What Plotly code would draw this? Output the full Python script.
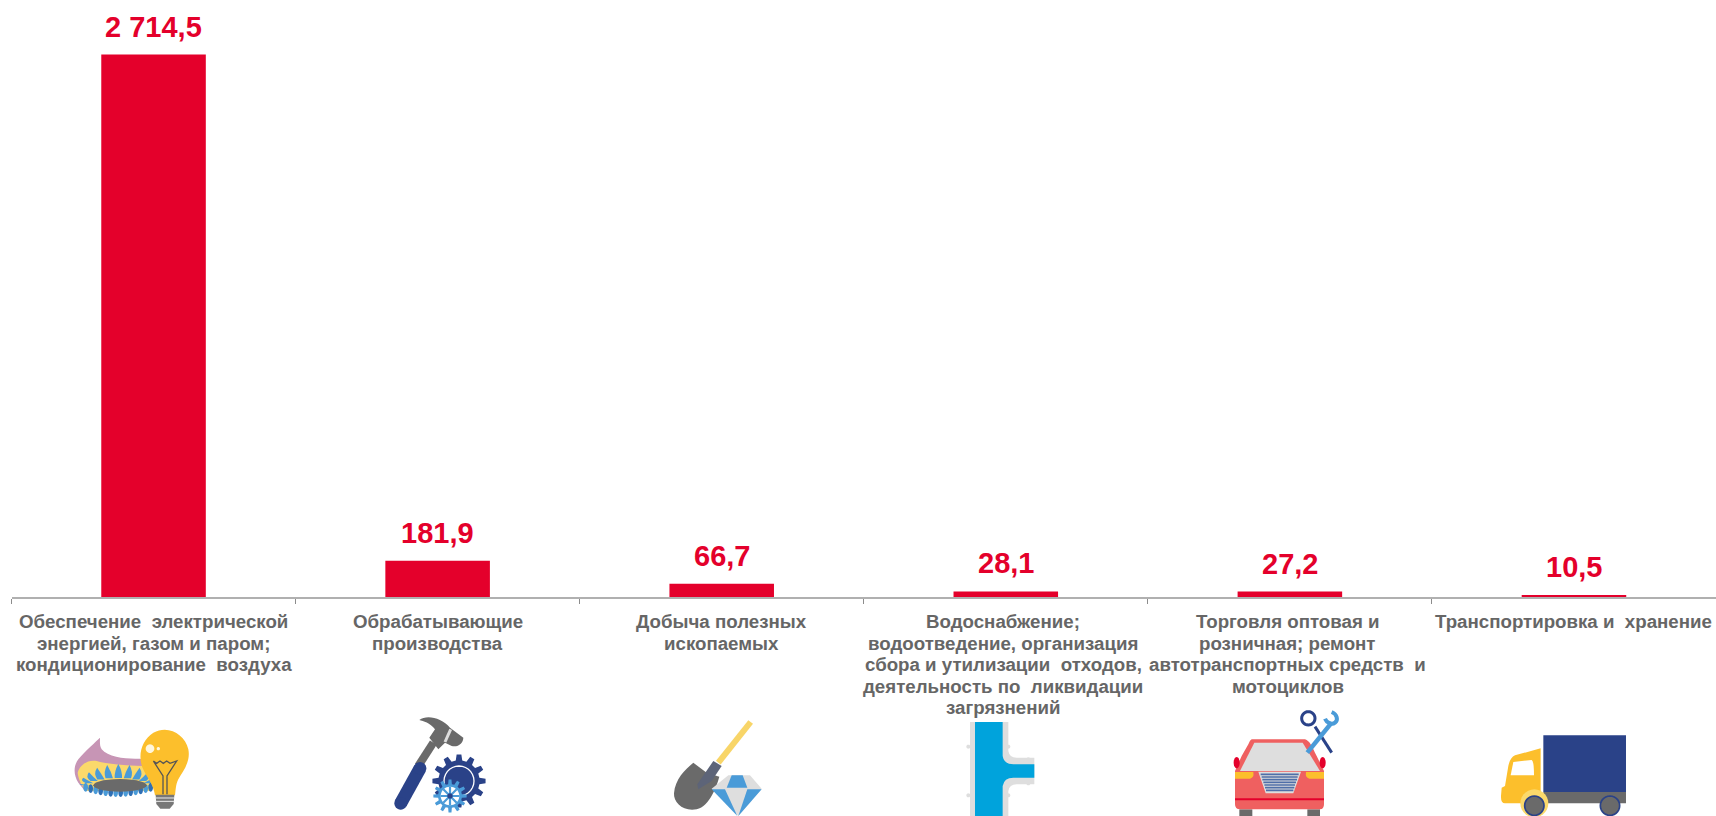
import math
import re
import plotly.graph_objects as go

categories = [
    "Обеспечение\u00a0 электрической<br>энергией, газом и паром;<br>кондиционирование\u00a0 воздуха",
    "Обрабатывающие<br>производства",
    "Добыча полезных<br>ископаемых",
    "Водоснабжение;<br>водоотведение, организация<br>сбора и утилизации\u00a0 отходов,<br>деятельность по\u00a0 ликвидации<br>загрязнений",
    "Торговля оптовая и<br>розничная; ремонт<br>автотранспортных средств\u00a0 и<br>мотоциклов",
    "Транспортировка и\u00a0 хранение",
]
values = [2714.5, 181.9, 66.7, 28.1, 27.2, 10.5]
value_labels = ["2\u00a0714,5", "181,9", "66,7", "28,1", "27,2", "10,5"]

W, H = 1716, 816
RED = "#e4002b"
GREY = "#6a6a6a"
NAVY = "#2a4288"
SKY = "#4a9bd8"
YEL = "#fcbf2c"
PALE = "#fbd96b"
LG = "#dedede"

shapes = []


def tf(ox, oy):
    def pt(x, y):
        return (ox + x / 3) / W, 1 - (oy + y / 3) / H
    return pt


def path_from(ox, oy, d):
    pt = tf(ox, oy)
    toks = re.findall(r"[A-Za-z]|-?[\d.]+", d)
    out, nums = [], []
    for t in toks:
        if t.isalpha():
            out.append(t)
        else:
            nums.append(float(t))
            if len(nums) == 2:
                px, py = pt(*nums)
                out.append(f"{px:.5f},{py:.5f}")
                nums = []
    return " ".join(out)


def fill(ox, oy, d, color):
    shapes.append(dict(type="path", xref="paper", yref="paper", layer="above",
                       path=path_from(ox, oy, d), fillcolor=color,
                       line=dict(width=0)))


def stroke(ox, oy, d, color, w):
    shapes.append(dict(type="path", xref="paper", yref="paper", layer="above",
                       path=path_from(ox, oy, d), fillcolor="rgba(0,0,0,0)",
                       line=dict(color=color, width=w)))


def ell(cx, cy, rx, ry=None):
    ry = rx if ry is None else ry
    n = 28
    p = [(cx + rx * math.cos(2 * math.pi * i / n), cy + ry * math.sin(2 * math.pi * i / n)) for i in range(n)]
    return "M " + " L ".join(f"{a:.1f},{b:.1f}" for a, b in p) + " Z"


def gear(cx, cy, ro, ri, n):
    p = []
    for i in range(n):
        a = 2 * math.pi * i / n
        s = 2 * math.pi / n
        for da, r in ((-.30, ri), (-.17, ro), (.17, ro), (.30, ri)):
            t = a + da * s
            p.append((cx + r * math.cos(t), cy + r * math.sin(t)))
    return "M " + " L ".join(f"{a:.1f},{b:.1f}" for a, b in p) + " Z"


# Icon 1: gas burner and bulb
o = (65, 716)
fill(*o, "M 105,65 C 95,75 60,105 40,130 C 25,150 25,175 40,200 L 60,225 L 260,225 L 260,140 L 225,128 C 190,130 130,125 110,100 C 103,90 105,75 105,65 Z", "#c795b5")
fill(*o, "M 38,170 C 45,145 70,130 95,135 C 130,145 200,150 250,150 L 255,225 L 65,225 C 50,210 40,190 38,170 Z", PALE)
for i in range(11):
    a = math.pi * (1.02 + 0.96 * i / 10)
    bx, by = 160 + 92 * math.cos(a), 210 + 24 * math.sin(a)
    tx, ty = 160 + 112 * math.cos(a), 208 + 64 * math.sin(a)
    fill(*o, f"M {bx-11:.1f},{by:.1f} Q {tx-12:.1f},{(by+ty)/2:.1f} {tx:.1f},{ty:.1f} Q {tx+12:.1f},{(by+ty)/2:.1f} {bx+11:.1f},{by:.1f} Z", SKY)
for i in range(14):
    x = 62 + i * 15
    y = 214 + 16 * math.sin(math.pi * i / 13)
    fill(*o, ell(x, y, 7, 13), "#2f6fb5" if i % 2 else SKY)
fill(*o, ell(165, 208, 80, 19), GREY)
fill(*o, "M 270,238 C 265,205 250,190 240,170 C 215,130 225,75 265,50 C 310,25 360,55 370,100 C 378,140 350,170 340,190 C 332,205 332,225 330,238 Z", YEL)
fill(*o, ell(255, 98, 13), "#fff6dc")
fill(*o, ell(280, 98, 5), "#fff6dc")
stroke(*o, "M 265,135 L 275,142 L 285,135 L 295,142 L 305,135 L 315,142 L 335,135 L 306,180 L 306,235 M 265,135 L 294,180 L 294,235", "#555555", 1.3)
fill(*o, "M 272,236 L 328,236 L 326,264 L 314,278 L 286,278 L 274,264 Z", "#777777")
stroke(*o, "M 272,246 L 328,246 M 272,256 L 328,256", "#eeeeee", 1)

# Icon 2: hammer and gears
o = (380, 706)
stroke(*o, "M 160,110 L 115,180", GREY, 8)
fill(*o, "M 118,42 C 140,25 185,35 210,65 L 250,95 C 250,110 235,125 215,120 L 195,110 L 175,130 L 148,95 L 165,70 C 150,50 130,45 118,42 Z", GREY)
stroke(*o, "M 212,70 L 195,108", "#dddddd", 3)
stroke(*o, "M 120,187 L 62,292", NAVY, 13)
fill(*o, ell(120, 187, 19), NAVY)
fill(*o, ell(62, 292, 19), NAVY)
fill(*o, gear(237, 225, 80, 62, 12), NAVY)
stroke(*o, ell(237, 225, 45), "#ffffff", 1.3)
fill(*o, gear(210, 270, 50, 36, 12), SKY)
fill(*o, ell(210, 270, 28), "#ffffff")
stroke(*o, "M 182,270 L 238,270 M 210,242 L 210,298 M 190,250 L 230,290 M 190,290 L 230,250", SKY, 2.2)
fill(*o, ell(210, 270, 8), NAVY)

# Icon 3: shovel and diamond
o = (660, 706)
stroke(*o, "M 272,48 L 175,170", "#f8d568", 6)
fill(*o, "M 100,170 L 140,200 L 178,212 C 170,240 150,300 110,310 C 70,318 40,290 42,262 C 45,220 75,190 100,170 Z", GREY)
fill(*o, "M 160,165 L 185,180 L 155,225 L 115,250 L 112,235 Z", "#5d6478")
fill(*o, "M 205,208 L 270,208 L 305,248 L 235,330 L 155,248 Z", LG)
fill(*o, "M 215,208 L 248,208 L 262,245 L 200,245 Z", SKY)
fill(*o, "M 155,250 L 195,250 L 232,330 Z", SKY)
fill(*o, "M 262,250 L 305,250 L 235,330 Z", SKY)

# Icon 4: water pipe
o = (950, 706)
for cx, cy in ((55, 122), (175, 122), (55, 268), (175, 268), (235, 160), (235, 232)):
    fill(*o, ell(cx, cy, 6), LG)
fill(*o, "M 60,48 L 175,48 L 175,135 Q 178,155 200,155 L 253,155 L 253,235 L 200,235 Q 178,235 175,255 L 175,330 L 60,330 Z", LG)
fill(*o, "M 75,48 L 158,48 L 158,150 Q 162,175 190,175 L 253,175 L 253,215 L 190,215 Q 162,215 158,240 L 158,330 L 75,330 Z", "#00a3dc")

# Icon 5: car and wrenches
o = (1220, 706)
fill(*o, "M 58,310 L 97,310 L 97,330 L 58,330 Z", GREY)
fill(*o, "M 262,310 L 300,310 L 300,330 L 262,330 Z", GREY)
fill(*o, "M 95,100 L 255,100 C 270,105 275,120 290,150 L 312,195 L 312,295 Q 312,310 300,310 L 60,310 Q 45,310 45,295 L 45,195 L 65,150 L 85,115 Q 90,102 95,100 Z", "#ef6060")
fill(*o, "M 103,110 L 248,110 L 300,195 L 60,195 Z", LG)
fill(*o, "M 45,198 L 100,198 Q 103,215 90,218 L 45,218 Z", YEL)
fill(*o, "M 258,198 L 312,198 L 312,218 L 268,218 Q 255,215 258,198 Z", YEL)
fill(*o, "M 115,197 L 243,197 L 220,262 L 137,262 Z", LG)
stroke(*o, " ".join(f"M {122 + (y - 205) * 0.33:.0f},{y} L {236 - (y - 205) * 0.33:.0f},{y}" for y in range(205, 260, 8)), "#4f6fa8", 1.6)
fill(*o, ell(50, 170, 9, 17), RED)
fill(*o, ell(308, 170, 9, 17), RED)
stroke(*o, "M 45,280 L 312,280", RED, 2)
stroke(*o, "M 285,62 L 335,140", NAVY, 3)
stroke(*o, ell(265, 37, 20), NAVY, 3)
stroke(*o, "M 335,50 L 262,140", SKY, 4.5)
stroke(*o, "M 335,18 C 352,25 355,42 345,50 C 335,58 320,50 315,38", SKY, 4)

# Icon 6: truck
o = (1490, 716)
fill(*o, "M 160,58 L 408,58 L 408,228 L 160,228 Z", NAVY)
fill(*o, "M 160,228 L 408,228 L 408,262 L 160,262 Z", GREY)
fill(*o, "M 152,97 L 152,262 L 45,262 Q 32,262 33,240 L 35,215 L 45,210 L 55,150 Q 60,125 75,118 Z", YEL)
fill(*o, "M 70,138 L 125,132 Q 132,135 132,178 L 62,178 Z", "#ffffff")
fill(*o, ell(133, 262, 42), PALE)
for wx in (133, 360):
    fill(*o, ell(wx, 269, 29), GREY)
    stroke(*o, ell(wx, 269, 29), NAVY, 1.7)

fig = go.Figure(go.Bar(x=categories, y=values, marker_color=RED, marker_line_width=0,
                       hoverinfo="skip"))
for c, v, t in zip(categories, values, value_labels):
    fig.add_annotation(x=c, y=v, text=t, showarrow=False, yanchor="bottom", yshift=10,
                       font=dict(family="Liberation Sans", size=29, color=RED, weight=700))

# Category labels: one text per line, because the reference's leading is tighter than Plotly's.
LABEL_DX = [0, 0, 0, -2.5, -2, 0]
for c, dx in zip(categories, LABEL_DX):
    for n, line in enumerate(c.split("<br>")):
        fig.add_annotation(x=c, y=0, text=line, showarrow=False, yanchor="middle",
                           xshift=dx, yshift=-(24.5 + 21.5 * n),
                           font=dict(family="Liberation Sans", size=18.7, color="#666666", weight=700))

fig.update_layout(
    width=W, height=H, margin=dict(l=0, r=0, t=0, b=0, autoexpand=False),
    paper_bgcolor="white", plot_bgcolor="white", bargap=0.632, showlegend=False,
    shapes=shapes,
    xaxis=dict(domain=[11.5 / W, 1], type="category", range=[-0.5, 5.5], tickson="boundaries",
               ticks="outside", ticklen=5, tickwidth=1, tickcolor="#8c8c8c",
               showline=True, linecolor="#b0b0b0", linewidth=2, showgrid=False,
               showticklabels=False, automargin=False, fixedrange=True),
    yaxis=dict(domain=[(H - 597) / H, 1], range=[0, 597 / (542.5 / 2714.5)], visible=False,
               fixedrange=True),
)
fig.write_html("out.html", config=dict(displayModeBar=False),
               post_script="document.body.style.margin='0';document.body.style.overflow='hidden';")
